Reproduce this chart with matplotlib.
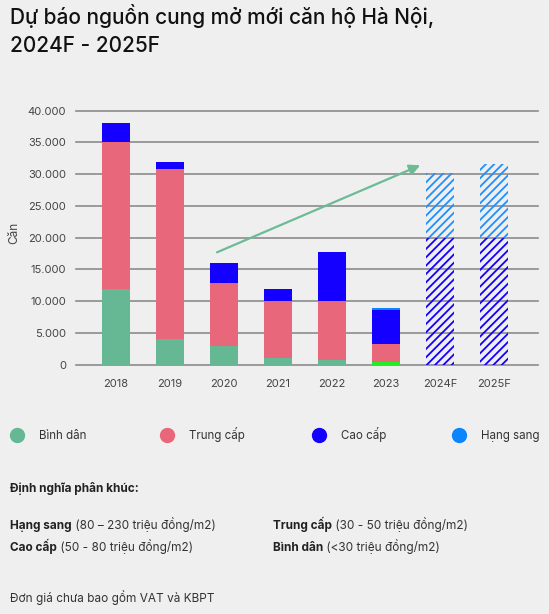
import matplotlib
matplotlib.use("Agg")
import matplotlib.pyplot as plt
from matplotlib.lines import Line2D

plt.rcParams['font.family'] = ['Inter', 'DejaVu Sans']
plt.rcParams['hatch.linewidth'] = 1.3

years = ["2018", "2019", "2020", "2021", "2022", "2023", "2024F", "2025F"]
binh_dan = [12000, 4000, 3000, 1100, 800, 400, 0, 0]
trung_cap = [23000, 26800, 9900, 8900, 9200, 2900, 0, 0]
cao_cap = [3000, 1100, 3100, 1900, 7750, 5300, 0, 0]
hang_sang = [0, 0, 0, 0, 0, 300, 0, 0]
forecast_cao = [0, 0, 0, 0, 0, 0, 20000, 20000]
forecast_sang = [0, 0, 0, 0, 0, 0, 10200, 11600]
yticks = [0, 5000, 10000, 15000, 20000, 25000, 30000, 35000, 40000]
legend_labels = ["Bình dân", "Trung cấp", "Cao cấp", "Hạng sang"]
arrow_start = (1.87, 17700)
arrow_end = (5.63, 31400)

BG = '#efefef'
C_BD = '#66b894'
C_TC = '#e8677a'
C_CC = '#1400ff'
C_HS = '#0a84ff'

W, H = 549, 614
fig = plt.figure(figsize=(W / 100, H / 100), dpi=100, facecolor=BG)
ax = fig.add_axes([76 / W, (H - 364.7) / H, 462 / W, 254 / H])
ax.set_facecolor(BG)

x = list(range(len(years)))
bw = 0.52
bd_colors = [C_BD] * 5 + ['#22ee22'] + [C_BD] * 2
ax.bar(x, binh_dan, bw, color=bd_colors, zorder=3)
bot = list(binh_dan)
ax.bar(x, trung_cap, bw, bottom=bot, color=C_TC, zorder=3)
bot = [a + b for a, b in zip(bot, trung_cap)]
ax.bar(x, cao_cap, bw, bottom=bot, color=C_CC, zorder=3)
bot = [a + b for a, b in zip(bot, cao_cap)]
ax.bar(x, hang_sang, bw, bottom=bot, color=C_HS, zorder=3)

ax.bar(x, forecast_cao, bw, facecolor='none', edgecolor=C_CC, hatch='////', linewidth=0, zorder=3)
ax.bar(x, forecast_sang, bw, bottom=forecast_cao, facecolor='none', edgecolor='#1e90ff', hatch='////', linewidth=0, zorder=3)

ax.annotate('', xy=arrow_end, xytext=arrow_start,
            arrowprops=dict(arrowstyle='-|>', color='#6cbb95', lw=1.6,
                            mutation_scale=16, shrinkA=0, shrinkB=0), zorder=4)

ax.set_xlim(-0.74, 7.81)
ax.set_ylim(0, 40000)
ax.set_yticks(yticks)
ax.set_yticklabels([f"{v:,}".replace(",", ".") for v in yticks])
ax.set_xticks(x)
ax.set_xticklabels(years)
for sp in ax.spines.values():
    sp.set_visible(False)
ax.yaxis.grid(True, color='#8c8c8c', lw=1.2, zorder=0)
ax.set_axisbelow(True)
for gl in ax.get_ygridlines():
    gl.set_clip_on(False)
ax.tick_params(axis='both', length=0, labelsize=8, labelcolor='#444444')
ax.tick_params(axis='y', pad=7)
ax.tick_params(axis='x', pad=10)
ax.set_ylabel('Căn', fontsize=8.5, color='#444444')
ax.yaxis.set_label_coords(-(76 - 20) / 462, 0.52)

# Title
fig.text(10 / W, 1 - 24.5 / H, "Dự báo nguồn cung mở mới căn hộ Hà Nội,",
         fontsize=15, fontweight='medium', color='#111111', va='baseline', ha='left')
fig.text(10 / W, 1 - 52 / H, "2024F - 2025F",
         fontsize=15, fontweight='medium', color='#111111', va='baseline', ha='left')

# Legend
leg_x = [17, 167, 319, 459]
leg_colors = [C_BD, C_TC, C_CC, C_HS]
ly = 1 - 435 / H
for lx, c, lab in zip(leg_x, leg_colors, legend_labels):
    fig.add_artist(Line2D([lx / W], [ly], marker='o', markersize=10, color=c,
                          linestyle='none', transform=fig.transFigure))
    fig.text((lx + 22) / W, 1 - 439 / H, lab, fontsize=8.3, color='#333333', va='baseline', ha='left')

# Definitions
fig.text(10 / W, 1 - 492 / H, "Định nghĩa phân khúc:", fontsize=8.5, fontweight='bold',
         color='#222222', va='baseline')
defs = [
    (10, 529, "Hạng sang", " (80 – 230 triệu đồng/m2)"),
    (10, 551, "Cao cấp", " (50 - 80 triệu đồng/m2)"),
    (273, 529, "Trung cấp", " (30 - 50 triệu đồng/m2)"),
    (273, 551, "Bình dân", " (<30 triệu đồng/m2)"),
]
fig.canvas.draw()
r = fig.canvas.get_renderer()
for px, py, b, rest in defs:
    t = fig.text(px / W, 1 - py / H, b, fontsize=8.5, fontweight='bold', color='#222222', va='baseline')
    bb = t.get_window_extent(renderer=r)
    fig.text(bb.x1 / W, 1 - py / H, rest, fontsize=8.5, color='#333333', va='baseline')

fig.text(10 / W, 1 - 602 / H, "Đơn giá chưa bao gồm VAT và KBPT", fontsize=8.5,
         color='#333333', va='baseline')

fig.savefig('out.png', dpi=100, facecolor=BG)
